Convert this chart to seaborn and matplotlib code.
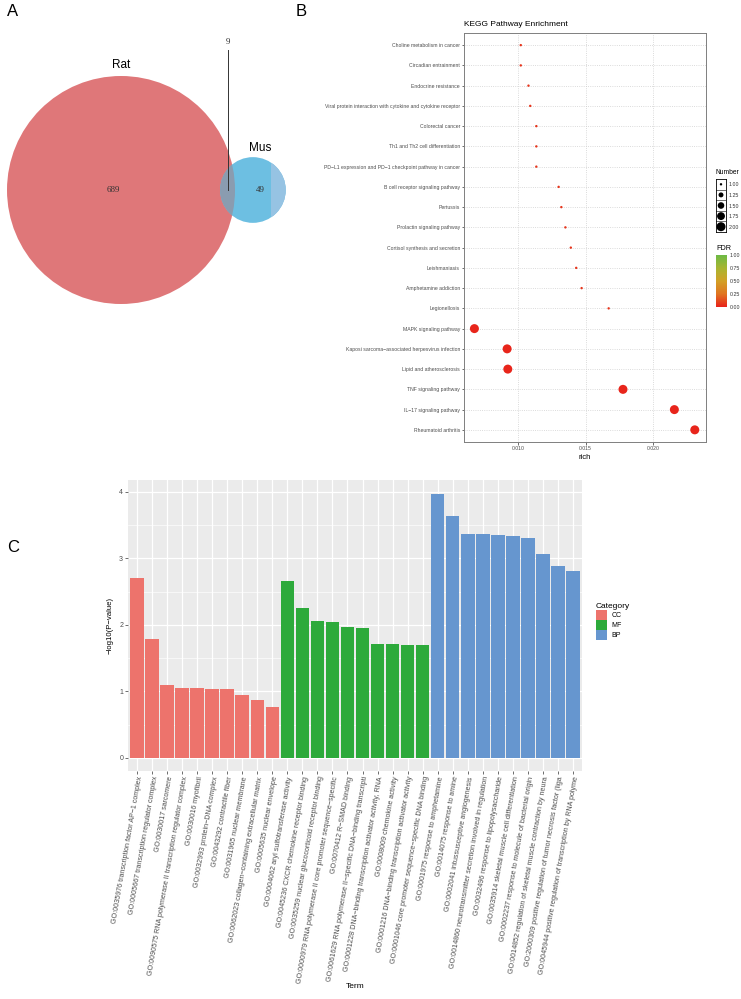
import numpy as np
import pandas as pd
import matplotlib
matplotlib.use('Agg')
import matplotlib.pyplot as plt
import seaborn as sns
from matplotlib.colors import LinearSegmentedColormap, Normalize
from matplotlib.patches import Circle, Rectangle
from matplotlib.cm import ScalarMappable

# ---------------- data ----------------
# A: Venn
venn_names = ['Rat', 'Mus']
venn_only = [689, 49]
venn_shared = 9

# B: KEGG enrichment
kegg_terms = ['Choline metabolism in cancer', 'Circadian entrainment', 'Endocrine resistance',
              'Viral protein interaction with cytokine and cytokine receptor', 'Colorectal cancer',
              'Th1 and Th2 cell differentiation', 'PD\u2212L1 expression and PD\u22121 checkpoint pathway in cancer',
              'B cell receptor signaling pathway', 'Pertussis', 'Prolactin signaling pathway',
              'Cortisol synthesis and secretion', 'Leishmaniasis', 'Amphetamine addiction',
              'Legionellosis', 'MAPK signaling pathway',
              'Kaposi sarcoma\u2212associated herpesvirus infection', 'Lipid and atherosclerosis',
              'TNF signaling pathway', 'IL\u221217 signaling pathway', 'Rheumatoid arthritis']
kegg_rich = [0.0102, 0.0102, 0.01077, 0.0109, 0.01135, 0.01135, 0.01135, 0.0130, 0.0132, 0.0135,
             0.0139, 0.0143, 0.0147, 0.0167, 0.00677, 0.00919, 0.00924, 0.01776, 0.02156, 0.02307]
kegg_number = [1, 1, 1, 1, 1, 1, 1, 1, 1, 1, 1, 1, 1, 1, 2, 2, 2, 2, 2, 2]
kegg_fdr = [0.06, 0.06, 0.06, 0.06, 0.06, 0.06, 0.06, 0.06, 0.06, 0.06,
            0.06, 0.06, 0.06, 0.06, 0.01, 0.01, 0.01, 0.01, 0.01, 0.01]
number_levels = [1.00, 1.25, 1.50, 1.75, 2.00]
fdr_ticks = [0.00, 0.25, 0.50, 0.75, 1.00]

# C: GO enrichment
go_terms = ['GO:0035976 transcription factor AP\u22121 complex',
            'GO:0005667 transcription regulator complex',
            'GO:0030017 sarcomere',
            'GO:0090575 RNA polymerase II transcription regulator complex',
            'GO:0030016 myofibril',
            'GO:0032993 protein\u2212DNA complex',
            'GO:0043292 contractile fiber',
            'GO:0031965 nuclear membrane',
            'GO:0062023 collagen\u2212containing extracellular matrix',
            'GO:0005635 nuclear envelope',
            'GO:0004062 aryl sulfotransferase activity',
            'GO:0045236 CXCR chemokine receptor binding',
            'GO:0035259 nuclear glucocorticoid receptor binding',
            'GO:0000979 RNA polymerase II core promoter sequence\u2212specific',
            'GO:0070412 R\u2212SMAD binding',
            'GO:0061629 RNA polymerase II\u2212specific DNA\u2212binding transcripti',
            'GO:0001228 DNA\u2212binding transcription activator activity, RNA',
            'GO:0008009 chemokine activity',
            'GO:0001216 DNA\u2212binding transcription activator activity',
            'GO:0001046 core promoter sequence\u2212specific DNA binding',
            'GO:0001975 response to amphetamine',
            'GO:0014075 response to amine',
            'GO:0002041 intussusceptive angiogenesis',
            'GO:0014860 neurotransmitter secretion involved in regulation',
            'GO:0032496 response to lipopolysaccharide',
            'GO:0035914 skeletal muscle cell differentiation',
            'GO:0002237 response to molecule of bacterial origin',
            'GO:0014852 regulation of skeletal muscle contraction by neura',
            'GO:2000309 positive regulation of tumor necrosis factor (liga',
            'GO:0045944 positive regulation of transcription by RNA polyme']
go_values = [2.71, 1.79, 1.09, 1.05, 1.05, 1.04, 1.03, 0.95, 0.87, 0.77,
             2.66, 2.25, 2.06, 2.04, 1.96, 1.95, 1.71, 1.71, 1.70, 1.69,
             3.97, 3.64, 3.36, 3.36, 3.35, 3.33, 3.30, 3.06, 2.88, 2.81]
go_category = ['CC'] * 10 + ['MF'] * 10 + ['BP'] * 10
go_palette = {'CC': '#ED736C', 'MF': '#2DAA3B', 'BP': '#6696CF'}

# ---------------- figure ----------------
W, H = 741, 999
plt.rcParams['font.family'] = ['Liberation Sans', 'DejaVu Sans']
fig = plt.figure(figsize=(W / 100, H / 100), dpi=100)


def fbox(x0, y0, x1, y1):
    # pixel box -> figure fraction
    return [x0 / W, 1 - y1 / H, (x1 - x0) / W, (y1 - y0) / H]


# ---------- A: Venn ----------
def lens_area(r1, r2, d):
    if d >= r1 + r2:
        return 0.0
    if d <= abs(r1 - r2):
        return np.pi * min(r1, r2) ** 2
    a1 = r1 ** 2 * np.arccos((d * d + r1 * r1 - r2 * r2) / (2 * d * r1))
    a2 = r2 ** 2 * np.arccos((d * d + r2 * r2 - r1 * r1) / (2 * d * r2))
    a3 = 0.5 * np.sqrt((-d + r1 + r2) * (d + r1 - r2) * (d - r1 + r2) * (d + r1 + r2))
    return a1 + a2 - a3


n1 = venn_only[0] + venn_shared
n2 = venn_only[1] + venn_shared
r1 = np.sqrt(n1 / np.pi)
r2 = np.sqrt(n2 / np.pi)
lo, hi = abs(r1 - r2), r1 + r2
for _ in range(60):
    mid = (lo + hi) / 2
    if lens_area(r1, r2, mid) > venn_shared:
        lo = mid
    else:
        hi = mid
d = (lo + hi) / 2

scale = 114 / r1  # px per unit
cx, cy = 121, 190
ax_a = fig.add_axes(fbox(0, 0, 300, 340))
ax_a.set_xlim(-cx / scale, (300 - cx) / scale)
ax_a.set_ylim(-(340 - cy) / scale, cy / scale)
ax_a.axis('off')

rat = Circle((0, 0), r1, color='#DF7779', lw=0)
mus = Circle((d, 0), r2, color='#6DBFE2', lw=0)
ax_a.add_patch(rat)
ax_a.add_patch(mus)
strip = Rectangle((d + 0.55 * r2, -r2), r2, 2 * r2, color='#96C3E3', lw=0)
ax_a.add_patch(strip)
strip.set_clip_path(mus)
ov = Circle((d, 0), r2, color='#8A9CB0', lw=0)
ax_a.add_patch(ov)
ov.set_clip_path(Circle((0, 0), r1, transform=ax_a.transData))

lens_x = ((d - r2) + r1) / 2
ax_a.text(0, r1 + 1.4, venn_names[0], ha='center', va='center', fontsize=8.5)
ax_a.text((r1 + d + r2) / 2, r2 + 1.2, venn_names[1], ha='center', va='center', fontsize=8.5)
ax_a.text((-r1 + d - r2) / 2, 0, str(venn_only[0]), ha='center', va='center', fontsize=6.5,
          family='Liberation Serif', color='#333333')
ax_a.text((r1 + d + r2) / 2, 0, str(venn_only[1]), ha='center', va='center', fontsize=6.5,
          family='Liberation Serif', color='#333333')
ax_a.plot([lens_x, lens_x], [0, r1 + 3.4], color='#333333', lw=0.7)
ax_a.text(lens_x, r1 + 4.45, str(venn_shared), ha='center', va='center', fontsize=6.5,
          family='Liberation Serif', color='#333333')

# ---------- B: KEGG dot plot ----------
kegg_df = pd.DataFrame({'Pathway': kegg_terms, 'rich': kegg_rich,
                        'Number': kegg_number, 'FDR': kegg_fdr})
fdr_cmap = LinearSegmentedColormap.from_list(
    'fdr', ['#E8221B', '#E07420', '#D2A026', '#A8B531', '#6DBA45'])

ax_b = fig.add_axes(fbox(464, 33, 706, 442))
sns.scatterplot(data=kegg_df, x='rich', y='Pathway', size='Number', hue='FDR',
                palette=fdr_cmap, hue_norm=(0, 1), sizes=(3, 42), size_norm=(1, 2),
                legend=False, edgecolor='none', ax=ax_b, zorder=3)
ax_b.set_xlim(0.0060, 0.0239)
ax_b.set_ylim(len(kegg_terms) - 0.4, -0.6)
ax_b.set_xticks([0.010, 0.015, 0.020])
ax_b.set_xticklabels(['0.010', '0.015', '0.020'])
ax_b.grid(True, ls=':', color='#CFCFCF', lw=0.6)
ax_b.set_axisbelow(True)
for s in ax_b.spines.values():
    s.set_color('#7F7F7F')
    s.set_linewidth(0.7)
ax_b.tick_params(axis='both', labelsize=3.7, length=1.8, width=0.5, color='#333333',
                 labelcolor='#4D4D4D', pad=1)
ax_b.set_xlabel('rich', fontsize=5.5, labelpad=2)
ax_b.set_ylabel('')
ax_b.set_title('KEGG Pathway Enrichment', loc='left', fontsize=6, pad=5)

# Number legend
fig.text(716 / W, 1 - 172 / H, 'Number', fontsize=4.8, va='center', ha='left')
ax_n = fig.add_axes(fbox(716, 179, 726, 232))
num_df = pd.DataFrame({'x': [0] * len(number_levels), 'Number': number_levels})
sns.scatterplot(data=num_df, x='x', y='Number', size='Number', sizes=(3, 42),
                size_norm=(1, 2), color='black', edgecolor='none', legend=False, ax=ax_n)
ax_n.set_xlim(-1, 1)
ax_n.set_ylim(2.125, 0.875)
ax_n.set_yticks(number_levels)
ax_n.set_yticklabels(['%.2f' % v for v in number_levels])
ax_n.set_yticks([1.125, 1.375, 1.625, 1.875], minor=True)
ax_n.yaxis.tick_right()
ax_n.tick_params(axis='y', which='major', length=0, labelsize=3.8, pad=2, labelcolor='#333333')
ax_n.tick_params(axis='y', which='minor', length=0)
ax_n.grid(True, which='minor', axis='y', color='#333333', lw=0.5)
ax_n.set_xticks([])
ax_n.set_xlabel('')
ax_n.set_ylabel('')
for s in ax_n.spines.values():
    s.set_linewidth(0.6)

# FDR colorbar
cax = fig.add_axes(fbox(716, 255, 727, 307))
cb = fig.colorbar(ScalarMappable(norm=Normalize(0, 1), cmap=fdr_cmap), cax=cax, ticks=fdr_ticks)
cb.outline.set_visible(False)
cb.ax.set_yticklabels(['%.2f' % v for v in fdr_ticks])
cb.ax.tick_params(labelsize=3.8, length=0, pad=2, labelcolor='#333333')
fig.text(716 / W, 1 - 248 / H, 'FDR', fontsize=5.2, va='center', ha='left')

# ---------- C: GO bar chart ----------
go_df = pd.DataFrame({'Term': go_terms, 'value': go_values, 'Category': go_category})
ax_c = fig.add_axes(fbox(128, 480, 582, 771))
sns.barplot(data=go_df, x='Term', y='value', hue='Category', palette=go_palette,
            dodge=False, width=0.9, saturation=1, ax=ax_c, linewidth=0)
ax_c.set_facecolor('#EBEBEB')
ax_c.set_xlim(-0.6, len(go_terms) - 0.4)
ax_c.set_ylim(-0.199, 4.179)
ax_c.set_yticks([0, 1, 2, 3, 4])
ax_c.set_yticks([0.5, 1.5, 2.5, 3.5], minor=True)
ax_c.grid(True, which='major', color='white', lw=0.9)
ax_c.grid(True, which='minor', axis='y', color='white', lw=0.45)
ax_c.set_axisbelow(True)
for s in ax_c.spines.values():
    s.set_visible(False)
ax_c.tick_params(axis='both', which='major', length=2, width=0.5, color='#333333',
                 labelcolor='#4D4D4D', pad=1.5)
ax_c.tick_params(axis='y', which='minor', length=0)
ax_c.tick_params(axis='y', labelsize=5)
ax_c.set_xticks(range(len(go_terms)))
ax_c.set_xticklabels(go_terms, rotation=80, ha='right', rotation_mode='anchor', fontsize=5.1)
ax_c.set_xlabel('Term', fontsize=6)
ax_c.xaxis.set_label_coords(0.5, (771 - 983) / 291)
ax_c.set_ylabel('\u2212log10(P\u2212value)', fontsize=5.6)
ax_c.yaxis.set_label_coords((114 - 128) / 454, 0.5)

handles, labels = ax_c.get_legend_handles_labels()
ax_c.legend(handles, labels, title='Category', loc='upper left',
            bbox_to_anchor=(590 / W, 1 - 597 / H), bbox_transform=fig.transFigure,
            frameon=False, fontsize=5, title_fontsize=6, handlelength=1.7, handleheight=1.7,
            labelspacing=0.1, handletextpad=0.6, alignment='left', borderpad=0.3)

# panel letters
fig.text(7 / W, 1 - 11 / H, 'A', fontsize=12, va='center', ha='left')
fig.text(296 / W, 1 - 11 / H, 'B', fontsize=12, va='center', ha='left')
fig.text(7 / W, 1 - 548 / H, 'C', fontsize=12, va='center', ha='left')

fig.savefig('out.png', dpi=100, facecolor='white')
